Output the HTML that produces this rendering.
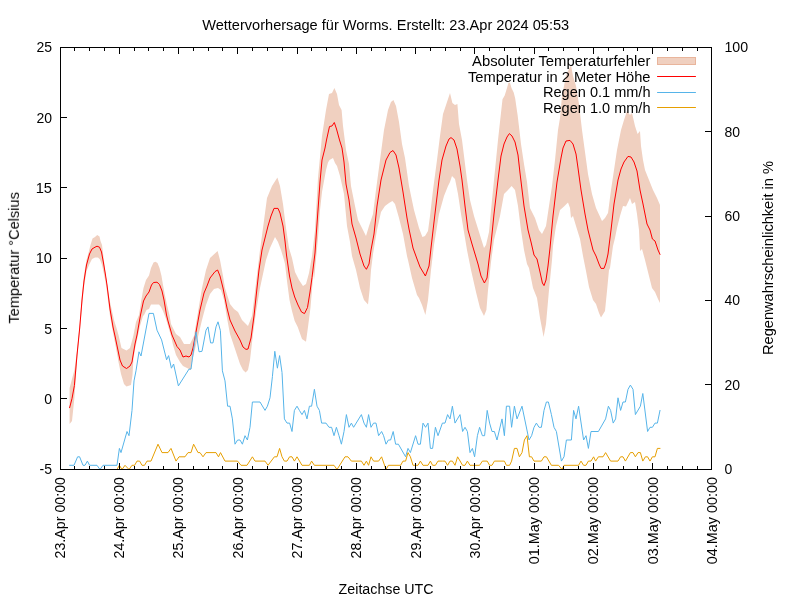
<!DOCTYPE html>
<html lang="de"><head><meta charset="utf-8"><title>Wettervorhersage für Worms</title>
<style>
html,body{margin:0;padding:0;background:#fff;}
body{width:800px;height:600px;overflow:hidden;}
svg{display:block;}
text{font-family:"Liberation Sans",sans-serif;font-size:14px;fill:#000;}
.ax{stroke:#000;stroke-width:1;fill:none;shape-rendering:crispEdges;}
.ln{fill:none;stroke-width:1;stroke-linejoin:round;stroke-linecap:round;}
</style></head><body>
<svg width="800" height="600" viewBox="0 0 800 600">
<rect x="0" y="0" width="800" height="600" fill="#ffffff"/>
<g style="opacity:0.999">
<polygon points="69.6,388.0 72.0,379.0 74.4,370.0 77.0,351.0 79.7,324.0 82.0,294.0 84.0,275.0 86.5,260.0 88.5,253.0 90.5,245.0 92.5,238.5 95.0,237.0 97.2,235.0 99.5,236.5 100.5,241.0 102.0,245.0 103.0,253.0 104.5,265.0 106.0,277.0 108.0,290.0 110.0,302.0 114.0,320.0 116.5,328.0 118.5,335.0 121.5,348.0 126.5,350.5 130.0,348.0 132.0,341.0 133.5,335.0 136.0,322.0 139.0,315.0 141.5,299.0 143.5,288.0 146.0,280.0 149.0,275.5 151.0,268.0 153.5,262.5 155.5,261.8 157.5,263.0 159.5,268.0 161.5,276.0 163.0,285.0 164.5,293.0 167.0,305.0 169.5,315.0 171.0,324.0 176.0,334.0 180.0,337.0 184.0,344.0 190.0,344.0 194.0,336.0 198.0,312.0 202.0,288.0 206.0,270.0 210.0,258.0 217.6,251.0 220.0,260.0 223.0,276.0 225.0,288.0 230.0,304.0 234.0,309.0 238.0,312.0 242.0,320.0 248.0,326.0 252.0,316.0 256.0,283.0 260.0,250.0 263.0,228.0 267.0,198.0 272.0,186.0 277.4,177.6 280.0,186.0 283.0,204.0 286.0,228.0 289.0,248.0 292.0,258.0 295.0,272.0 299.0,280.0 303.0,286.0 306.0,284.0 309.0,273.0 312.0,256.0 315.0,230.0 318.0,178.0 322.0,136.0 326.0,110.0 329.0,94.0 332.0,93.0 334.4,88.0 337.0,94.0 339.0,105.0 341.6,110.0 343.0,126.0 346.0,150.0 349.0,164.0 351.0,186.0 355.0,206.0 358.0,220.0 363.0,230.0 366.0,236.0 369.0,226.0 373.0,214.0 376.0,190.0 380.0,160.0 384.0,130.0 388.0,110.0 391.0,102.0 393.4,100.0 396.0,106.0 399.0,122.0 402.0,144.0 405.0,158.0 409.0,186.0 414.0,210.0 419.0,228.0 422.4,237.0 425.0,236.0 428.0,231.0 430.0,216.0 433.0,190.0 437.0,160.0 440.0,136.0 443.0,114.0 447.0,102.0 450.0,93.0 452.4,103.0 455.0,105.0 457.4,104.0 459.0,124.0 462.0,140.0 465.0,164.0 467.0,180.0 470.0,200.0 474.0,216.0 479.0,232.0 484.0,248.0 486.0,245.0 489.0,232.0 492.0,200.0 495.0,170.0 497.0,150.0 498.0,140.0 502.5,99.2 504.7,95.5 507.0,88.0 508.5,82.7 510.0,82.7 511.5,88.0 513.7,92.5 515.2,98.5 516.7,109.0 517.6,115.0 518.8,125.0 521.0,144.0 524.0,164.0 527.0,182.0 530.0,208.0 535.0,218.0 539.0,230.0 542.0,234.0 546.0,226.0 549.0,206.0 552.0,186.0 555.0,160.0 556.0,150.0 558.0,130.0 560.0,118.0 562.0,96.0 566.0,76.0 568.0,71.0 571.0,65.0 573.0,76.0 576.0,86.0 579.0,104.0 582.0,130.0 585.0,152.0 588.0,174.0 592.0,194.0 596.0,208.0 602.0,221.0 605.0,218.0 608.0,213.0 611.0,190.0 614.0,170.0 617.0,150.0 621.0,130.0 624.0,120.0 627.0,111.0 630.0,115.0 632.0,113.0 635.0,126.0 637.6,134.0 640.0,131.0 641.0,146.0 643.0,160.0 645.0,170.0 649.0,180.0 653.0,190.0 657.0,198.0 660.0,205.0 660.0,303.0 658.0,299.0 655.0,292.0 652.0,288.0 649.0,276.0 645.0,260.0 642.0,249.0 640.0,251.0 639.0,230.0 637.0,214.0 635.0,202.0 632.0,204.0 630.0,198.0 626.0,206.5 623.0,206.0 620.0,216.0 617.0,228.0 615.0,238.0 613.0,246.0 610.0,268.0 609.0,270.0 607.0,291.0 605.0,311.0 601.0,317.6 599.0,313.0 596.0,304.0 593.0,300.0 589.0,287.0 586.0,271.0 583.0,256.0 580.0,239.0 576.0,226.0 573.0,216.0 571.0,218.0 570.0,208.0 568.0,202.5 564.0,206.5 560.0,210.0 556.0,226.0 553.0,246.0 552.0,260.0 549.0,290.0 546.0,324.0 543.6,337.0 540.0,318.0 537.0,298.0 533.0,288.0 529.0,268.0 527.0,264.0 524.0,250.0 521.0,230.0 518.0,206.0 515.0,190.0 511.6,186.0 508.0,190.0 504.0,194.0 500.0,216.0 496.0,232.0 494.0,240.0 491.0,262.0 488.0,290.0 486.4,310.0 484.0,316.0 480.0,308.0 476.0,292.0 471.0,270.0 467.0,250.0 465.0,238.0 461.0,214.0 458.0,194.0 455.0,179.0 452.0,176.0 450.0,182.0 448.0,186.0 444.0,196.0 439.0,214.0 434.0,245.0 431.0,270.0 428.0,300.0 425.4,315.0 422.0,305.0 419.0,298.0 417.0,295.0 412.0,278.0 408.0,260.0 407.0,256.0 403.0,234.0 399.0,218.0 395.0,204.0 392.4,201.0 389.0,203.0 385.0,206.0 381.0,212.0 377.0,230.0 373.0,254.0 371.0,270.0 369.6,290.0 368.0,304.4 364.0,300.0 360.0,288.0 356.0,270.0 352.0,256.0 350.0,242.0 347.0,226.0 344.0,194.0 340.0,176.0 337.0,166.0 335.0,163.0 333.0,158.0 329.5,160.0 328.0,162.5 326.0,170.0 324.0,181.0 322.0,192.0 320.0,210.0 318.0,238.0 314.0,280.0 313.5,272.0 310.5,307.5 308.0,327.0 306.0,341.7 302.0,339.0 297.7,327.0 294.7,321.0 292.0,311.0 289.5,300.0 287.0,281.0 285.0,264.0 284.0,260.0 281.0,250.0 278.0,242.0 275.0,237.0 270.0,248.0 266.0,260.0 260.0,288.0 256.0,312.0 253.0,334.0 250.0,360.0 248.0,370.0 245.6,372.4 243.0,370.0 240.0,364.0 236.0,352.0 230.0,334.0 227.0,318.0 224.0,300.0 221.0,290.0 218.0,288.0 214.0,289.0 210.0,294.0 206.0,305.0 202.0,320.0 196.0,345.0 192.4,360.0 191.0,370.0 189.0,369.0 183.0,366.0 180.0,362.0 176.0,355.0 173.0,345.0 171.0,336.0 166.0,319.0 164.5,315.0 163.0,311.0 161.0,307.0 159.0,304.5 151.0,304.5 149.0,309.0 146.5,310.0 144.0,315.0 143.0,316.0 140.0,326.0 137.0,340.0 135.0,349.0 133.5,358.0 132.5,375.0 131.0,385.0 126.5,386.5 124.0,384.0 121.0,374.0 118.5,362.0 116.0,348.0 113.5,335.0 110.0,316.0 107.0,292.0 105.5,282.0 103.5,272.0 102.0,265.0 100.0,259.5 98.0,257.5 95.0,257.5 92.0,259.0 89.5,264.0 86.5,271.0 84.0,287.0 82.0,307.0 79.7,333.0 77.0,361.0 74.4,398.0 72.0,421.0 69.6,424.0" fill="#f0d0c0" stroke="none"/>
<polyline class="ln" stroke="#ff0000" stroke-width="1.25" points="69.6,407.7 72.0,398.5 74.4,385.5 77.0,355.0 79.7,328.0 82.0,300.0 84.0,281.0 86.5,265.0 89.5,254.0 92.0,249.0 95.0,247.2 97.0,246.2 99.5,247.2 101.5,252.0 103.5,263.0 105.5,275.0 107.0,285.0 110.0,309.0 113.0,327.0 115.0,336.0 117.5,348.0 120.0,360.0 122.5,366.0 126.5,368.5 130.0,366.0 132.0,362.0 133.5,353.0 135.0,344.0 137.0,335.0 140.5,315.0 143.5,301.0 146.0,296.0 149.0,292.0 151.5,285.0 153.5,282.5 157.0,282.2 159.5,284.5 162.0,291.0 164.0,300.0 165.5,309.0 166.5,315.0 168.0,321.0 172.0,335.0 177.0,346.5 180.0,350.0 183.0,357.0 186.0,356.0 189.0,357.0 191.0,355.0 193.0,348.0 196.0,332.0 200.0,310.0 204.0,293.0 207.0,286.0 210.0,278.0 215.0,271.6 217.6,270.0 220.0,276.0 223.0,288.0 227.0,308.0 230.0,320.0 235.0,331.0 240.0,340.0 243.0,347.0 246.0,349.4 248.0,349.0 251.0,338.0 254.0,316.0 257.0,288.0 259.0,270.0 262.0,250.0 265.0,238.0 268.0,226.0 271.0,216.0 274.0,208.4 278.0,208.4 280.0,213.0 283.0,226.0 285.0,241.0 286.5,255.0 289.5,276.0 292.0,288.0 294.7,297.0 298.0,305.0 301.5,312.0 304.5,313.6 307.5,307.5 310.0,292.0 312.0,277.5 315.0,253.0 316.0,238.0 318.0,210.0 320.0,182.0 322.0,160.0 325.0,148.0 326.5,140.0 329.5,126.5 332.0,126.0 334.3,122.5 336.5,129.0 339.5,140.0 342.0,148.0 344.0,162.0 346.0,184.0 349.0,200.0 352.0,224.0 356.0,238.0 360.0,254.0 364.0,266.0 366.4,269.3 369.0,264.0 371.0,250.0 374.0,234.0 377.0,206.0 381.0,180.0 386.0,160.0 390.0,152.5 393.0,150.5 396.0,155.0 399.0,168.0 403.0,192.0 407.0,218.0 409.0,229.0 413.0,248.0 417.0,259.0 420.0,267.0 425.4,276.0 429.0,266.0 431.0,248.0 434.0,222.0 439.0,180.0 442.0,160.0 446.0,146.0 449.0,139.0 451.0,137.6 454.0,140.0 457.0,149.0 460.0,166.0 462.0,180.0 465.0,206.0 468.0,230.0 472.0,244.0 475.0,254.0 478.0,264.0 481.0,276.0 484.4,283.0 487.0,278.0 489.0,260.0 491.0,244.0 494.0,214.0 498.0,180.0 501.0,156.0 504.0,144.0 507.0,137.0 509.4,133.6 512.0,136.0 515.0,142.0 518.0,155.0 520.0,173.0 524.0,206.0 528.0,230.0 531.0,242.0 534.0,255.0 537.0,259.0 540.0,272.0 542.4,283.0 544.0,285.6 546.0,280.0 548.0,266.0 550.0,248.0 553.0,216.0 557.0,182.0 561.0,158.0 563.0,148.0 566.0,141.0 570.0,140.4 573.0,144.0 576.0,154.0 578.0,168.0 581.0,190.0 585.0,214.0 588.0,230.0 593.0,250.0 596.0,256.0 599.0,264.0 601.0,268.4 604.0,268.4 606.0,263.0 608.0,254.0 611.0,230.0 614.0,204.0 618.0,180.0 621.0,169.0 624.0,162.0 628.0,156.4 631.0,157.0 634.0,162.0 637.0,171.0 640.0,190.0 643.0,204.0 647.0,224.0 650.0,230.0 652.4,239.0 655.0,241.0 658.0,250.0 660.0,254.4"/>
<polyline class="ln" stroke="#56b4e9" points="69.6,465.3 74.0,465.3 77.6,456.8 79.6,456.8 83.0,465.3 85.0,465.3 87.4,461.1 89.6,465.3 97.0,465.3 100.0,469.5 103.0,465.3 117.0,465.3 119.4,448.4 121.0,452.6 127.0,431.5 129.0,435.7 132.0,410.4 134.0,380.9 136.0,370.8 139.0,351.8 141.0,356.0 149.0,313.4 153.4,313.4 157.0,330.2 161.6,339.9 166.6,359.8 168.6,355.6 171.4,368.2 173.6,364.0 178.4,385.9 189.0,369.1 191.0,369.1 196.0,331.9 199.0,351.8 202.0,351.3 206.0,330.2 208.0,326.9 210.6,342.9 213.0,342.9 216.0,326.9 218.0,321.8 220.4,330.7 222.4,370.8 225.0,380.9 227.6,406.2 230.0,406.2 232.4,418.9 235.0,444.2 237.6,440.0 240.0,440.0 242.4,444.2 245.0,435.7 247.4,440.0 250.0,427.3 252.4,402.0 260.0,402.0 265.0,410.4 267.4,406.2 270.0,397.8 272.4,376.7 274.8,351.3 277.4,368.2 279.6,355.6 282.0,372.4 284.4,418.9 287.0,423.1 289.6,423.1 292.0,431.5 294.4,410.4 297.0,406.2 299.4,410.4 302.0,414.6 304.4,410.4 307.0,418.9 309.4,406.2 311.6,406.2 314.4,389.3 317.0,406.2 319.4,410.4 321.6,423.1 326.0,423.1 329.0,427.3 331.6,427.3 334.0,435.7 336.4,427.3 339.0,435.7 341.4,444.2 344.0,431.5 346.4,414.6 349.0,427.3 351.4,423.1 353.6,427.3 361.4,414.6 364.0,423.1 366.4,427.3 368.6,414.6 371.0,427.3 373.6,423.1 376.0,423.1 378.6,435.7 381.6,431.5 383.6,435.7 386.0,444.2 388.4,440.0 390.6,440.0 393.2,431.5 395.6,444.2 398.4,444.2 405.6,456.8 408.0,448.4 410.4,452.6 415.6,435.7 418.0,444.2 420.4,444.2 423.0,423.1 425.6,427.3 428.0,423.1 430.4,448.4 432.6,448.4 435.4,427.3 438.0,435.7 442.4,423.1 445.0,423.1 447.6,414.6 450.0,418.9 452.4,406.2 455.0,423.1 460.0,414.6 462.6,431.5 465.0,427.3 467.4,431.5 470.0,452.6 472.4,448.4 474.6,456.8 477.4,435.7 479.6,427.3 482.4,435.7 484.6,435.7 487.2,410.4 489.6,423.1 492.0,431.5 494.4,431.5 497.0,440.0 502.0,418.9 504.4,435.7 506.4,406.2 509.6,406.2 511.6,427.3 514.4,406.2 517.0,418.9 522.0,406.2 529.0,440.0 531.6,435.7 534.0,427.3 536.4,423.1 539.0,427.3 541.4,427.3 544.0,410.4 546.4,402.0 548.4,402.0 551.4,414.6 554.0,427.3 556.4,431.5 561.4,461.1 564.0,456.8 566.4,440.0 571.4,440.0 573.6,410.4 576.0,418.9 578.6,406.2 583.6,440.0 586.0,435.7 588.4,448.4 591.0,431.5 598.4,431.5 605.6,418.9 608.4,406.2 610.6,410.4 613.2,423.1 615.6,418.9 618.0,397.8 620.6,410.4 623.0,402.0 625.4,402.0 628.0,389.3 630.4,385.1 633.0,389.3 635.4,414.6 640.4,406.2 642.8,393.5 647.6,431.5 650.0,427.3 652.4,427.3 655.0,423.1 657.4,423.1 660.0,410.4"/>
<polyline class="ln" stroke="#e69f00" points="69.6,469.5 117.0,469.5 119.4,465.3 122.0,469.5 125.0,465.3 129.0,469.5 132.0,465.3 134.6,465.3 137.0,461.1 139.6,461.1 142.0,465.3 144.5,465.3 147.0,461.1 151.0,461.1 158.0,444.2 162.0,452.6 168.0,452.6 171.0,448.4 176.0,461.1 179.0,456.8 185.0,456.8 188.0,452.6 191.0,452.6 193.6,444.2 198.0,452.6 200.0,452.6 203.0,456.8 206.0,452.6 216.0,452.6 218.5,456.8 220.5,452.6 225.0,461.1 237.6,461.1 241.0,465.3 247.0,465.3 252.4,456.8 255.0,461.1 265.0,461.1 268.0,465.3 274.4,456.8 277.0,456.8 279.6,448.4 282.0,456.8 284.4,461.1 287.0,461.1 289.6,456.8 292.0,456.8 294.4,461.1 297.0,456.8 302.0,465.3 309.4,465.3 311.6,461.1 314.4,465.3 334.0,465.3 337.0,469.5 345.0,456.8 348.0,456.8 351.4,461.1 361.4,461.1 364.0,465.3 366.4,461.1 368.6,465.3 371.0,456.8 373.6,461.1 378.6,461.1 381.6,456.8 386.0,469.5 388.4,465.3 400.6,465.3 403.0,461.1 405.6,461.1 408.0,452.6 410.4,456.8 413.0,465.3 418.0,465.3 420.4,461.1 423.0,465.3 428.0,465.3 430.4,461.1 432.6,465.3 435.4,465.3 438.0,461.1 442.4,461.1 445.0,461.1 447.6,465.3 450.0,461.1 452.4,461.1 455.0,465.3 457.6,456.8 462.6,465.3 465.0,465.3 467.4,461.1 470.0,465.3 479.6,465.3 482.4,461.1 487.2,461.1 489.6,465.3 492.0,465.3 494.4,461.1 504.4,461.1 506.4,465.3 509.6,465.3 511.6,461.1 514.4,448.4 517.0,448.4 519.4,456.8 522.0,452.6 524.4,440.0 527.0,435.7 529.4,456.8 531.6,456.8 534.0,461.1 541.4,461.1 544.0,456.8 546.4,456.8 551.4,465.3 558.6,465.3 562.0,469.5 564.0,465.3 578.6,465.3 581.0,461.1 583.6,465.3 586.0,465.3 588.4,461.1 591.0,461.1 593.6,456.8 595.6,461.1 598.4,456.8 603.0,456.8 605.6,452.6 610.6,461.1 618.0,461.1 620.6,456.8 623.0,456.8 625.4,461.1 630.4,452.6 633.0,452.6 635.4,456.8 638.0,452.6 640.4,452.6 642.8,461.1 645.4,456.8 647.6,456.8 650.0,461.1 652.4,456.8 655.0,456.8 657.4,448.4 660.0,448.4"/>
<text x="650.5" y="66.0" text-anchor="end" textLength="178.5" lengthAdjust="spacingAndGlyphs">Absoluter Temperaturfehler</text>
<text x="650.5" y="81.6" text-anchor="end" textLength="182.5" lengthAdjust="spacingAndGlyphs">Temperatur in 2 Meter Höhe</text>
<text x="650.5" y="97.1" text-anchor="end" textLength="107.5" lengthAdjust="spacingAndGlyphs">Regen 0.1 mm/h</text>
<text x="650.5" y="113.0" text-anchor="end" textLength="107.5" lengthAdjust="spacingAndGlyphs">Regen 1.0 mm/h</text>
<rect x="657.5" y="57.5" width="38" height="7" fill="#f0d0c0" stroke="#e9b59c" stroke-width="1" shape-rendering="crispEdges"/>
<line class="ln" stroke="#ff0000" x1="657.5" y1="76.5" x2="695.5" y2="76.5"/>
<line class="ln" stroke="#56b4e9" x1="657.5" y1="92.5" x2="695.5" y2="92.5"/>
<line class="ln" stroke="#e69f00" x1="657.5" y1="107.5" x2="695.5" y2="107.5"/>
<path class="ax" d="M60.5 47.5H711.5V469.5H60.5ZM74.5 469.0v-3M74.5 48.0v3M89.5 469.0v-3M89.5 48.0v3M104.5 469.0v-3M104.5 48.0v3M119.5 469.0v-6M119.5 48.0v6M134.5 469.0v-3M134.5 48.0v3M148.5 469.0v-3M148.5 48.0v3M163.5 469.0v-3M163.5 48.0v3M178.5 469.0v-6M178.5 48.0v6M193.5 469.0v-3M193.5 48.0v3M208.5 469.0v-3M208.5 48.0v3M222.5 469.0v-3M222.5 48.0v3M237.5 469.0v-6M237.5 48.0v6M252.5 469.0v-3M252.5 48.0v3M267.5 469.0v-3M267.5 48.0v3M282.5 469.0v-3M282.5 48.0v3M297.5 469.0v-6M297.5 48.0v6M311.5 469.0v-3M311.5 48.0v3M326.5 469.0v-3M326.5 48.0v3M341.5 469.0v-3M341.5 48.0v3M356.5 469.0v-6M356.5 48.0v6M371.5 469.0v-3M371.5 48.0v3M385.5 469.0v-3M385.5 48.0v3M400.5 469.0v-3M400.5 48.0v3M415.5 469.0v-6M415.5 48.0v6M430.5 469.0v-3M430.5 48.0v3M445.5 469.0v-3M445.5 48.0v3M460.5 469.0v-3M460.5 48.0v3M474.5 469.0v-6M474.5 48.0v6M489.5 469.0v-3M489.5 48.0v3M504.5 469.0v-3M504.5 48.0v3M519.5 469.0v-3M519.5 48.0v3M534.5 469.0v-6M534.5 48.0v6M548.5 469.0v-3M548.5 48.0v3M563.5 469.0v-3M563.5 48.0v3M578.5 469.0v-3M578.5 48.0v3M593.5 469.0v-6M593.5 48.0v6M608.5 469.0v-3M608.5 48.0v3M623.5 469.0v-3M623.5 48.0v3M637.5 469.0v-3M637.5 48.0v3M652.5 469.0v-6M652.5 48.0v6M667.5 469.0v-3M667.5 48.0v3M682.5 469.0v-3M682.5 48.0v3M697.5 469.0v-3M697.5 48.0v3M61.0 398.5h6M61.0 328.5h6M61.0 258.5h6M61.0 187.5h6M61.0 117.5h6M711.0 384.5h-6M711.0 300.5h-6M711.0 216.5h-6M711.0 131.5h-6"/>
<text x="52.0" y="52" text-anchor="end">25</text>
<text x="52.0" y="123" text-anchor="end">20</text>
<text x="52.0" y="193" text-anchor="end" textLength="16.3" lengthAdjust="spacingAndGlyphs">15</text>
<text x="52.0" y="263" text-anchor="end" textLength="16.3" lengthAdjust="spacingAndGlyphs">10</text>
<text x="52.0" y="334" text-anchor="end">5</text>
<text x="52.0" y="404" text-anchor="end">0</text>
<text x="52.0" y="474" text-anchor="end">-5</text>
<text x="724.4" y="52" textLength="23.7" lengthAdjust="spacingAndGlyphs">100</text>
<text x="724.4" y="137">80</text>
<text x="724.4" y="221">60</text>
<text x="724.4" y="305">40</text>
<text x="724.4" y="390">20</text>
<text x="724.4" y="474">0</text>
<text transform="translate(65.1,477.0) rotate(-90)" text-anchor="end" textLength="81.5" lengthAdjust="spacingAndGlyphs">23.Apr 00:00</text>
<text transform="translate(124.1,477.0) rotate(-90)" text-anchor="end" textLength="81.5" lengthAdjust="spacingAndGlyphs">24.Apr 00:00</text>
<text transform="translate(183.1,477.0) rotate(-90)" text-anchor="end" textLength="81.5" lengthAdjust="spacingAndGlyphs">25.Apr 00:00</text>
<text transform="translate(243.1,477.0) rotate(-90)" text-anchor="end" textLength="81.5" lengthAdjust="spacingAndGlyphs">26.Apr 00:00</text>
<text transform="translate(302.1,477.0) rotate(-90)" text-anchor="end" textLength="81.5" lengthAdjust="spacingAndGlyphs">27.Apr 00:00</text>
<text transform="translate(361.1,477.0) rotate(-90)" text-anchor="end" textLength="81.5" lengthAdjust="spacingAndGlyphs">28.Apr 00:00</text>
<text transform="translate(421.1,477.0) rotate(-90)" text-anchor="end" textLength="81.5" lengthAdjust="spacingAndGlyphs">29.Apr 00:00</text>
<text transform="translate(480.1,477.0) rotate(-90)" text-anchor="end" textLength="81.5" lengthAdjust="spacingAndGlyphs">30.Apr 00:00</text>
<text transform="translate(539.1,477.0) rotate(-90)" text-anchor="end" textLength="87.3" lengthAdjust="spacingAndGlyphs">01.May 00:00</text>
<text transform="translate(598.1,477.0) rotate(-90)" text-anchor="end" textLength="87.3" lengthAdjust="spacingAndGlyphs">02.May 00:00</text>
<text transform="translate(658.1,477.0) rotate(-90)" text-anchor="end" textLength="87.3" lengthAdjust="spacingAndGlyphs">03.May 00:00</text>
<text transform="translate(717.1,477.0) rotate(-90)" text-anchor="end" textLength="87.3" lengthAdjust="spacingAndGlyphs">04.May 00:00</text>
<text x="385.7" y="29.6" text-anchor="middle" textLength="367" lengthAdjust="spacingAndGlyphs">Wettervorhersage für Worms. Erstellt: 23.Apr 2024 05:53</text>
<text x="386.1" y="593.8" text-anchor="middle" textLength="95" lengthAdjust="spacingAndGlyphs">Zeitachse UTC</text>
<text transform="translate(18.9,257.8) rotate(-90)" text-anchor="middle" textLength="131.5" lengthAdjust="spacingAndGlyphs">Temperatur °Celsius</text>
<text transform="translate(772.5,258) rotate(-90)" text-anchor="middle" textLength="194" lengthAdjust="spacingAndGlyphs">Regenwahrscheinlichkeit in %</text>
</g>
</svg></body></html>
